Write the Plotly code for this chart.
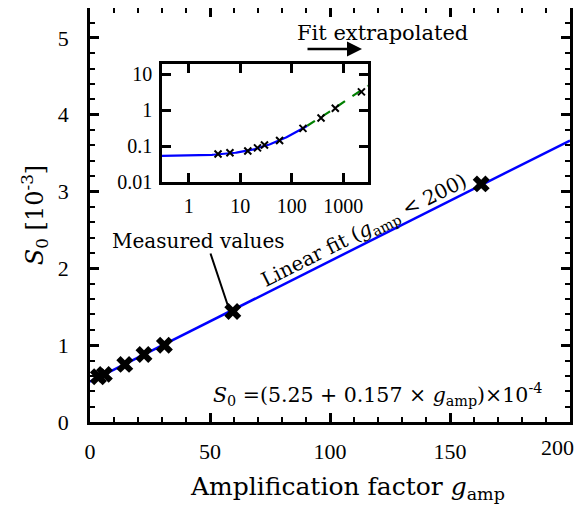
import numpy as np
import plotly.graph_objects as go

# ---- data ----
g_measured = [3.5, 6.0, 14.5, 22.5, 31.0, 59.5, 163.0]          # main panel
s0_measured = [0.59, 0.62, 0.75, 0.88, 1.00, 1.44, 3.10]         # S0 [1e-3]
g_inset = [3.7, 6.3, 14.0, 21.6, 29.5, 58.0, 165.0, 370.0, 700.0, 2250.0]
s0_inset = [0.060, 0.065, 0.073, 0.089, 0.107, 0.143, 0.31, 0.60, 1.12, 3.2]
fit_intercept = 5.25e-4      # from the equation printed on the chart
fit_slope = 0.157e-4
fit_limit = 200
main_xticks = [0, 50, 100, 150, 200]
main_yticks = [0, 1, 2, 3, 4, 5]
inset_xticks = [1, 10, 100, 1000]
inset_yticks = [0.01, 0.1, 1, 10]
inset_ylabels = ["0.01", "0.1", "1", "10"]

FONT_NUM = "Liberation Serif"
FONT_TXT = "DejaVu Serif"

def fit_main(g):
    return (fit_intercept + fit_slope * np.asarray(g)) * 1e3

def fit_inset(g):
    return (fit_intercept + fit_slope * np.asarray(g)) * 1e2

fig = go.Figure()

g_line = [0, fit_limit]
fig.add_trace(go.Scatter(x=g_line, y=fit_main(g_line), mode="lines",
                         line=dict(color="#0000ff", width=2.5), showlegend=False))
fig.add_trace(go.Scatter(x=g_measured, y=s0_measured, mode="markers",
                         marker=dict(symbol="x", size=15, color="black"),
                         showlegend=False))

# inset curves
g_in1 = np.logspace(np.log10(0.3), np.log10(fit_limit), 120)
g_in2 = np.logspace(np.log10(fit_limit), np.log10(3000), 60)
fig.add_trace(go.Scatter(x=g_in1, y=fit_inset(g_in1), mode="lines", xaxis="x2", yaxis="y2",
                         line=dict(color="#0000ff", width=2.2), showlegend=False))
fig.add_trace(go.Scatter(x=g_in2, y=fit_inset(g_in2), mode="lines", xaxis="x2", yaxis="y2",
                         line=dict(color="#008000", width=2.2, dash="dash"), showlegend=False))
fig.add_trace(go.Scatter(x=g_inset, y=s0_inset, mode="markers", xaxis="x2", yaxis="y2",
                         marker=dict(symbol="x-thin-open", size=7, color="black",
                                     line=dict(color="black", width=2)),
                         showlegend=False))

# shaded extrapolation region in inset
fig.add_shape(type="rect", xref="x2", yref="y2 domain", x0=fit_limit, x1=3000,
              y0=0, y1=1, fillcolor="#d9d9d9", line=dict(width=0), layer="below")

# page is shown with an 8 px body margin: visible pixel = figure pixel + 8
def px(xp):
    return (xp - 90) / 480.0

def py(yp):
    return (422 - yp) / 414.0

annots = [
    dict(x=px(198), y=py(241), text="Measured values", size=20),
    dict(x=px(364), y=py(231), text="Linear fit (<i>g</i><sub>amp</sub> &lt; 200)",
         textangle=-26.7, size=20),
    dict(x=px(377), y=py(394),
         text="<i>S</i><sub>0</sub> =(5.25 + 0.157 × <i>g</i><sub>amp</sub>)×10<sup>-4</sup>",
         size=20.5),
    dict(x=px(382), y=py(33), text="Fit extrapolated", size=21),
    dict(x=px(347), y=py(488), text="Amplification factor <i>g</i><sub>amp</sub>", size=25),
]
layout_ann = []
for a in annots:
    size = a.pop("size")
    d = dict(xref="paper", yref="paper", showarrow=False, xanchor="center", yanchor="middle",
             font=dict(family=FONT_TXT, color="black", size=size))
    d.update(a)
    layout_ann.append(d)

# last x tick label is pulled in from the right edge, as in the reference
layout_ann.append(dict(xref="paper", yref="paper", x=px(576), y=py(447), xanchor="right",
                       yanchor="middle", showarrow=False, text=str(main_xticks[-1]),
                       font=dict(family=FONT_NUM, size=22, color="black")))

# pointer line to measured value
layout_ann.append(dict(xref="x domain", yref="y domain", x=px(229), y=py(309),
                       ax=px(210), ay=py(252), axref="x domain", ayref="y domain",
                       showarrow=True, arrowhead=0, arrowwidth=2, arrowcolor="black", text=""))
# arrow for "Fit extrapolated"
layout_ann.append(dict(xref="x domain", yref="y domain", x=px(362), y=py(49),
                       ax=px(306), ay=py(49), axref="x domain", ayref="y domain",
                       showarrow=True, arrowhead=2, arrowsize=1.2, arrowwidth=2.5,
                       arrowcolor="black", text=""))

axis_common = dict(showgrid=False, zeroline=False, showline=True, linecolor="black",
                   mirror="allticks", ticks="inside", tickcolor="black",
                   tickfont=dict(family=FONT_NUM, size=22, color="black"))

fig.update_layout(
    width=577, height=496,
    margin=dict(l=82, r=15, t=0, b=82, autoexpand=False),
    plot_bgcolor="white", paper_bgcolor="white",
    font=dict(family=FONT_TXT, color="black"),
    xaxis=dict(axis_common, range=[0, 200], tickmode="array", tickvals=main_xticks,
               ticktext=[str(v) for v in main_xticks[:-1]] + [""],
               ticklen=9, tickwidth=2.5, linewidth=2.5,
               minor=dict(ticks="inside", dtick=10, ticklen=5, tickwidth=2, tickcolor="black"),
               ticklabelstandoff=8),
    yaxis=dict(axis_common, range=[0, 5.39], tickmode="array", tickvals=main_yticks,
               ticklen=9, tickwidth=2.5, linewidth=2.5,
               minor=dict(ticks="inside", dtick=0.2, ticklen=5, tickwidth=2, tickcolor="black"),
               title=dict(text="<i>S</i><sub>0</sub> [10<sup>-3</sup>]",
                          font=dict(family=FONT_TXT, size=24, color="black"), standoff=8),
               ticklabelstandoff=14),
    xaxis2=dict(axis_common, type="log", range=[-0.52, 3.48], domain=[px(162), px(368)],
                anchor="y2", tickmode="array", tickvals=inset_xticks,
                ticktext=[str(v) for v in inset_xticks],
                ticklen=9, tickwidth=2.5, linewidth=2.5, ticklabelstandoff=4,
                tickfont=dict(family=FONT_NUM, size=20, color="black")),
    yaxis2=dict(axis_common, type="log", range=[-2, 1.28], domain=[py(182), py(64)],
                anchor="x2", tickmode="array", tickvals=inset_yticks,
                ticktext=inset_ylabels,
                ticklen=9, tickwidth=2.5, linewidth=2.5, ticklabelstandoff=3,
                tickfont=dict(family=FONT_NUM, size=20, color="black")),
    annotations=layout_ann,
)

fig.write_html("out.html")
